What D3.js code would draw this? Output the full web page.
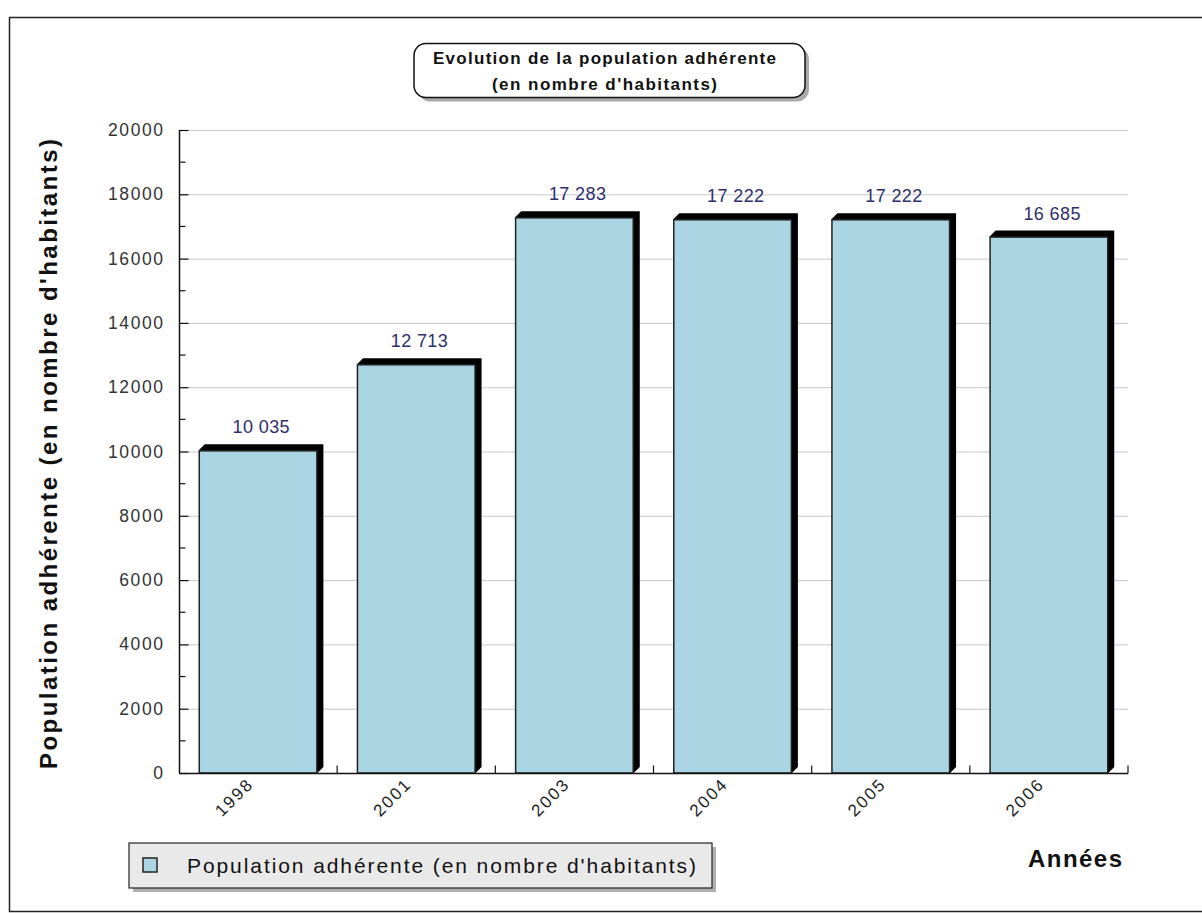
<!DOCTYPE html>
<html>
<head>
<meta charset="utf-8">
<script src="https://cdn.jsdelivr.net/npm/d3@7"></script>
<style>
  body { margin: 0; background: #fff; }
  svg { display: block; font-family: Arial, "Liberation Sans", sans-serif; }
</style>
</head>
<body>
<svg id="chart"></svg>
<script>
const years = ['1998', '2001', '2003', '2004', '2005', '2006'];
const population = [10035, 12713, 17283, 17222, 17222, 16685];
const yTicks = [0, 2000, 4000, 6000, 8000, 10000, 12000, 14000, 16000, 18000, 20000];
const minorTicks = d3.range(1000, 20000, 2000);
const titleLines = ['Evolution de la population adhérente', "(en nombre d'habitants)"];
const yTitle = "Population adhérente (en nombre d'habitants)";
const xTitle = 'Années';
const legendLabel = "Population adhérente (en nombre d'habitants)";

var config = {
  width: 1202,
  height: 913,
  left: 179,
  right: 1128,
  top: 130,
  bottom: 773,
  depth: 6
};

const svg = d3.select('#chart')
  .attr('width', config.width)
  .attr('height', config.height);

// outer frame
svg.append('rect')
  .attr('x', 9.5).attr('y', 17.5)
  .attr('width', 1200).attr('height', 894)
  .attr('fill', '#fff')
  .attr('stroke', '#222').attr('stroke-width', 1.5);

const x = d3.scaleBand()
  .domain(years)
  .range([config.left, config.right])
  .paddingInner(0.25)
  .paddingOuter(0.125);

const y = d3.scaleLinear()
  .domain([0, 20000])
  .range([config.bottom, config.top]);

// gridlines
svg.append('g')
  .selectAll('line')
  .data(yTicks.filter(d => d > 0))
  .join('line')
  .attr('x1', config.left).attr('x2', config.right)
  .attr('y1', d => y(d) + 0.5).attr('y2', d => y(d) + 0.5)
  .attr('stroke', '#c8c8c8').attr('stroke-width', 1);

// y axis, ticks pointing inward
const yAxis = svg.append('g')
  .attr('transform', `translate(${config.left + 0.5},0)`)
  .call(d3.axisRight(y).tickValues(yTicks).tickSize(9).tickFormat(''));
yAxis.select('.domain').attr('d', `M0,${config.top}V${config.bottom}`).attr('stroke', '#111').attr('stroke-width', 1.5);
yAxis.selectAll('.tick line').attr('stroke', '#111').attr('stroke-width', 1.2);
yAxis.selectAll('.minor')
  .data(minorTicks)
  .join('line')
  .attr('class', 'minor')
  .attr('x1', 0).attr('x2', 6)
  .attr('y1', d => y(d)).attr('y2', d => y(d))
  .attr('stroke', '#111').attr('stroke-width', 1.2);

svg.append('g')
  .selectAll('text')
  .data(yTicks)
  .join('text')
  .attr('x', 163)
  .attr('y', d => y(d) + 6)
  .attr('text-anchor', 'end')
  .attr('font-size', 17.5)
  .attr('fill', '#333')
  .attr('textLength', d => String(d).length * 11.2 - 1)
  .attr('lengthAdjust', 'spacing')
  .text(d => d);

// bars with black 3D shadow
const bars = svg.append('g')
  .selectAll('g')
  .data(years.map((yr, i) => ({ year: yr, value: population[i] })))
  .join('g');

const dpt = config.depth;
bars.append('path')
  .attr('d', d => {
    const x0 = x(d.year), x1 = x0 + x.bandwidth(), t = y(d.value), b = y(0);
    return `M${x0},${t}L${x0 + dpt},${t - dpt}L${x1 + dpt},${t - dpt}L${x1 + dpt},${b - dpt}L${x1},${b}Z`;
  })
  .attr('fill', '#000');

bars.append('rect')
  .attr('x', d => x(d.year) + 0.5)
  .attr('y', d => y(d.value) + 0.5)
  .attr('width', x.bandwidth() - 1)
  .attr('height', d => y(0) - y(d.value) - 0.5)
  .attr('fill', '#aad6e4')
  .attr('stroke', '#222').attr('stroke-width', 1.5);

bars.append('text')
  .attr('x', d => x(d.year) + x.bandwidth() / 2 + dpt / 2)
  .attr('y', d => y(d.value) - 17)
  .attr('text-anchor', 'middle')
  .attr('font-size', 18)
  .attr('fill', '#2e2e6e')
  .attr('textLength', 57)
  .attr('lengthAdjust', 'spacing')
  .text(d => d3.format(',')(d.value).replace(/,/g, ' '));

// x axis
const xAxis = svg.append('g')
  .attr('transform', `translate(0,${config.bottom + 0.5})`);
xAxis.append('line')
  .attr('x1', config.left).attr('x2', config.right)
  .attr('stroke', '#111').attr('stroke-width', 1.5);
const step = x.step();
xAxis.selectAll('.xt')
  .data(years)
  .join('line')
  .attr('class', 'xt')
  .attr('x1', d => x(d) - x.paddingOuter() * step + step)
  .attr('x2', d => x(d) - x.paddingOuter() * step + step)
  .attr('y1', 0).attr('y2', -8)
  .attr('stroke', '#111').attr('stroke-width', 1.2);

xAxis.selectAll('.xl')
  .data(years)
  .join('text')
  .attr('class', 'xl')
  .attr('transform', d => `translate(${x(d) + x.bandwidth() / 2 - 5},${13}) rotate(-45)`)
  .attr('text-anchor', 'end')
  .attr('font-size', 17)
  .attr('fill', '#222')
  .attr('textLength', 44)
  .attr('lengthAdjust', 'spacing')
  .text(d => d);

// axis titles
svg.append('text')
  .attr('transform', `translate(57,454) rotate(-90)`)
  .attr('text-anchor', 'middle')
  .attr('font-size', 24)
  .attr('font-weight', 'bold')
  .attr('fill', '#111')
  .attr('textLength', 630)
  .attr('lengthAdjust', 'spacing')
  .text(yTitle);

svg.append('text')
  .attr('x', 1122).attr('y', 867)
  .attr('text-anchor', 'end')
  .attr('font-size', 24)
  .attr('font-weight', 'bold')
  .attr('fill', '#111')
  .attr('textLength', 94)
  .attr('lengthAdjust', 'spacing')
  .text(xTitle);

// title box
const tb = { x: 414, y: 43.5, w: 391, h: 54 };
svg.append('rect')
  .attr('x', tb.x + 4).attr('y', tb.y + 4)
  .attr('width', tb.w).attr('height', tb.h)
  .attr('rx', 12).attr('fill', '#aaa');
svg.append('rect')
  .attr('x', tb.x).attr('y', tb.y)
  .attr('width', tb.w).attr('height', tb.h)
  .attr('rx', 12).attr('fill', '#fff')
  .attr('stroke', '#111').attr('stroke-width', 1.5);
const titleWidths = [343, 225];
svg.append('g')
  .selectAll('text')
  .data(titleLines)
  .join('text')
  .attr('x', tb.x + tb.w / 2 - 5)
  .attr('y', (d, i) => 64 + i * 26)
  .attr('text-anchor', 'middle')
  .attr('font-size', 17)
  .attr('font-weight', 'bold')
  .attr('fill', '#111')
  .attr('textLength', (d, i) => titleWidths[i])
  .attr('lengthAdjust', 'spacing')
  .text(d => d);

// legend
const lg = { x: 129, y: 843, w: 583, h: 45 };
svg.append('rect')
  .attr('x', lg.x + 4).attr('y', lg.y + 4)
  .attr('width', lg.w).attr('height', lg.h)
  .attr('fill', '#b0b0b0');
svg.append('rect')
  .attr('x', lg.x).attr('y', lg.y)
  .attr('width', lg.w).attr('height', lg.h)
  .attr('fill', '#e9e9e9')
  .attr('stroke', '#222').attr('stroke-width', 1.2);
svg.append('rect')
  .attr('x', 143).attr('y', 858)
  .attr('width', 14).attr('height', 14)
  .attr('fill', '#aad6e4')
  .attr('stroke', '#222').attr('stroke-width', 1.5);
svg.append('text')
  .attr('x', 187).attr('y', 873)
  .attr('font-size', 21)
  .attr('fill', '#111')
  .attr('textLength', 509)
  .attr('lengthAdjust', 'spacing')
  .text(legendLabel);
</script>
</body>
</html>
